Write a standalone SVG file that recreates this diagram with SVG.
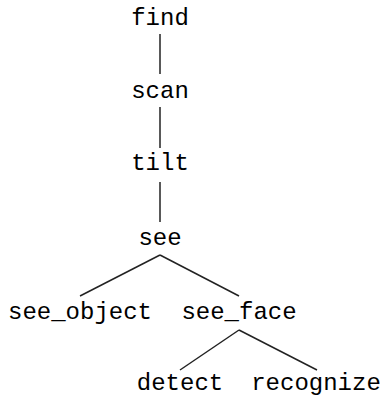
<svg xmlns="http://www.w3.org/2000/svg" width="381" height="397" viewBox="0 0 381 397">
<style>
text{font-family:"Liberation Mono","Courier New",monospace;font-size:24px;fill:#000;text-anchor:middle}
.e{stroke:#222;stroke-width:1.5;fill:none}
</style>
<rect width="381" height="397" fill="#fff"/>
<g id="edges">
<line class="e" x1="160" y1="34" x2="160" y2="74"/>
<line class="e" x1="160" y1="107" x2="160" y2="148"/>
<line class="e" x1="160" y1="182" x2="160" y2="222"/>
<line class="e" x1="160" y1="255" x2="80" y2="296"/>
<line class="e" x1="160" y1="255" x2="239" y2="296"/>
<line class="e" x1="239" y1="330" x2="180" y2="370"/>
<line class="e" x1="239" y1="330" x2="317" y2="370"/>
</g>
<g id="find"><text x="160" y="25">find</text></g>
<g id="scan"><text x="160" y="98">scan</text></g>
<g id="tilt"><text x="160" y="170">tilt</text></g>
<g id="see"><text x="160" y="245">see</text></g>
<g id="see_object"><text x="80" y="319">see_object</text></g>
<g id="see_face"><text x="239" y="319">see_face</text></g>
<g id="detect"><text x="180" y="390">detect</text></g>
<g id="recognize"><text x="316" y="390">recognize</text></g>
</svg>
